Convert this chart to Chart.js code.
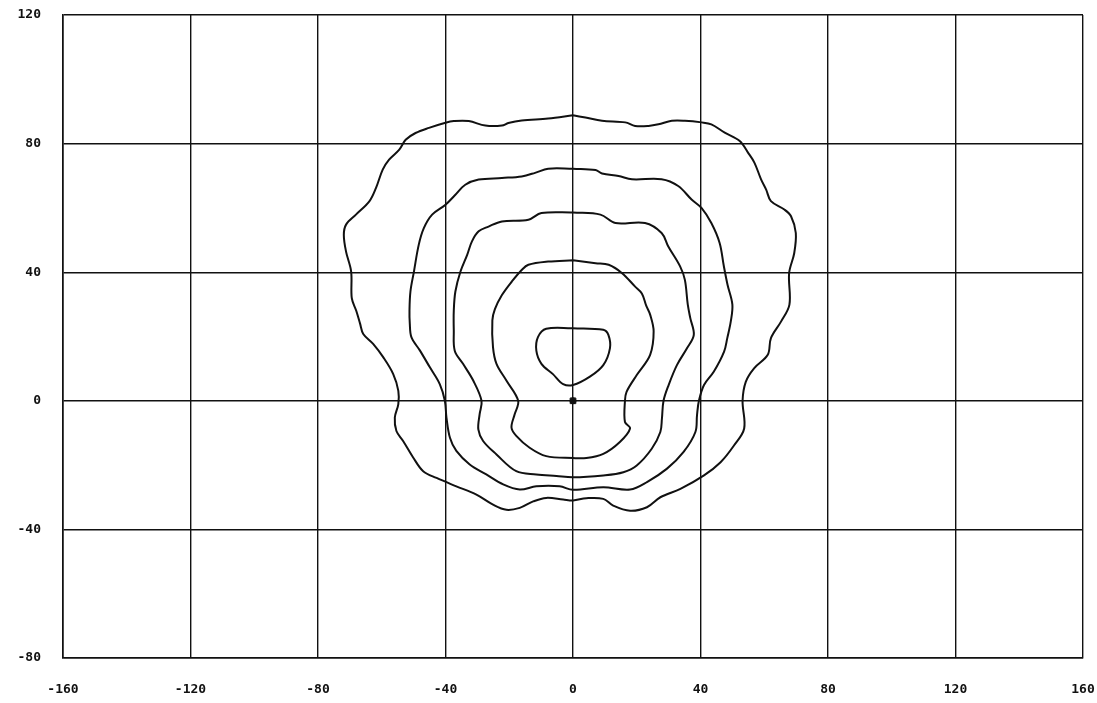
<!DOCTYPE html>
<html>
<head>
<meta charset="utf-8">
<script src="https://cdn.jsdelivr.net/npm/chart.js@4/dist/chart.umd.min.js"></script>
<style>
    body { margin: 0; background: #fff; overflow: hidden; }
</style>
</head>
<body>
<canvas id="contours" width="1097" height="703"></canvas>
<script>
// axis ranges and tick step
const xRange = [-160, 160];
const yRange = [-80, 120];
const tickStep = 40;

// contour lines, innermost first as [x, y]
const contour1 = [[0, 22.6], [-8.4, 22.4], [-11.0, 19.8], [-11.5, 15.6], [-9.9, 11.5], [-6.3, 8.3], [-3.1, 5.2], [0, 4.9],
    [5.3, 7.5], [9.5, 11.1], [11.6, 16.4], [11.1, 20.5], [9.5, 22.1], [0, 22.6]];

const contour2 = [[0, 43.7], [-7.8, 43.3], [-14.0, 42.3], [-16.1, 40.7], [-19.2, 37.1], [-22.3, 32.9], [-24.5, 28.5],
    [-25.3, 25.0], [-25.1, 16.7], [-24.0, 11.5], [-20.9, 6.3], [-17.2, 0], [-18.3, -4.2], [-19.3, -8.3], [-17.8, -10.9],
    [-13.6, -14.6], [-8.4, -17.2], [0, -17.8], [4.2, -17.8], [9.5, -16.5], [14.7, -12.8], [17.9, -8.6], [16.3, -6.6],
    [16.3, 0], [16.8, 2.8], [20.0, 8.0], [24.2, 14.3], [25.3, 21.6], [24.2, 26.8], [23.0, 29.5], [21.6, 33.4],
    [19.5, 35.5], [15.4, 39.7], [11.2, 42.3], [7.1, 42.8], [0, 43.7]];

const contour3 = [[0, 58.6], [-9.9, 58.4], [-14.0, 56.3], [-22.3, 55.8], [-26.5, 54.2], [-29.6, 52.7], [-31.7, 49.6],
    [-33.2, 45.4], [-35.3, 40.2], [-36.9, 34.0], [-37.4, 28.0], [-37.4, 21.9], [-37.1, 15.6], [-34.5, 11.5],
    [-31.3, 6.3], [-28.7, 0], [-29.3, -4.2], [-29.7, -8.9], [-28.2, -12.5], [-24.0, -16.7], [-17.8, -21.9],
    [-11.5, -22.9], [-5.2, -23.4], [0, -23.8], [9.5, -23.2], [15.8, -22.2], [20.0, -20.1], [24.7, -14.9],
    [27.4, -9.7], [27.9, -5.5], [28.4, 0], [30.0, 4.9], [32.6, 11.1], [35.8, 16.4], [37.9, 20.5], [36.8, 25.7],
    [36.0, 30.0], [35.1, 37.6], [33.6, 41.8], [29.9, 48.0], [27.8, 52.2], [22.6, 55.3], [13.3, 55.3], [8.6, 57.9],
    [0, 58.6]];

const contour4 = [[0, 72.2], [-7.8, 72.2], [-11.9, 70.9], [-16.1, 69.8], [-22.3, 69.3], [-29.6, 68.8], [-33.8, 67.2],
    [-36.9, 64.1], [-40.0, 61.0], [-44.2, 57.9], [-46.8, 53.7], [-48.4, 48.5], [-49.9, 40.2], [-51.0, 34.0],
    [-51.3, 28.0], [-51.2, 24.0], [-50.7, 19.8], [-48.0, 15.6], [-44.9, 10.4], [-41.8, 5.2], [-40.2, 0],
    [-39.7, -5.2], [-38.6, -11.5], [-36.6, -15.6], [-32.4, -19.8], [-27.2, -22.9], [-21.9, -26.0], [-16.7, -27.6],
    [-11.5, -26.6], [-4.2, -26.6], [0, -27.7], [9.5, -26.9], [17.9, -27.6], [23.2, -25.3], [29.5, -21.1],
    [34.7, -15.9], [38.4, -9.7], [38.9, -4.5], [39.5, 0], [41.1, 4.9], [44.2, 9.1], [47.4, 15.3], [48.4, 19.5],
    [49.5, 24.7], [50.0, 29.9], [48.5, 36.0], [47.3, 42.0], [46.0, 49.1], [43.4, 55.3], [40.3, 60.0], [37.2, 62.6],
    [33.0, 66.8], [27.8, 68.9], [18.5, 68.9], [14.3, 69.9], [9.1, 70.7], [7.1, 71.8], [0, 72.2]];

const contour5 = [[0, 88.8], [-7.8, 87.8], [-16.1, 87.2], [-20.3, 86.4], [-22.3, 85.6], [-27.5, 85.6], [-32.7, 87.0],
    [-37.4, 87.0], [-40.0, 86.5], [-45.2, 84.9], [-49.4, 83.3], [-52.5, 81.2], [-54.5, 78.1], [-57.7, 75.0],
    [-59.7, 71.9], [-61.8, 66.2], [-63.9, 62.0], [-68.1, 57.9], [-71.2, 54.8], [-71.9, 51.6], [-71.2, 46.4],
    [-69.6, 40.2], [-69.4, 31.9], [-68.0, 28.0], [-66.8, 24.0], [-65.8, 20.8], [-62.7, 17.7], [-59.5, 13.5],
    [-56.4, 8.3], [-54.8, 3.1], [-54.8, -1.0], [-55.9, -5.2], [-55.4, -9.4], [-53.3, -12.5], [-50.1, -17.7],
    [-47.0, -21.9], [-42.8, -24.0], [-36.6, -26.6], [-30.3, -29.2], [-25.1, -32.3], [-20.9, -33.9], [-16.7, -33.3],
    [-12.5, -31.3], [-8.4, -30.2], [-3.1, -30.7], [0, -31.0], [4.2, -30.3], [9.5, -30.5], [12.6, -32.6],
    [17.9, -34.2], [23.2, -33.1], [27.4, -30.0], [33.7, -27.4], [41.1, -23.2], [46.3, -19.1], [50.5, -13.9],
    [53.7, -8.6], [53.2, 0], [54.2, 5.9], [56.8, 10.1], [61.1, 14.3], [62.1, 19.5], [65.3, 24.7], [67.9, 29.9],
    [67.8, 39.7], [69.4, 45.9], [69.9, 52.2], [68.4, 57.4], [66.3, 59.5], [62.1, 62.1], [60.6, 65.7], [59.0, 68.9],
    [56.9, 74.1], [54.9, 77.2], [52.3, 80.8], [47.6, 83.4], [43.4, 86.0], [40.3, 86.6], [35.1, 87.1], [31.0, 87.1],
    [26.8, 86.0], [23.7, 85.5], [19.5, 85.5], [16.4, 86.6], [9.1, 87.1], [3.9, 88.1], [0, 88.8]];

const contours = [contour1, contour2, contour3, contour4, contour5];
const sourcePoint = [[0, 0]];

const toPoints = pairs => pairs.map(p => ({ x: p[0], y: p[1] }));

const lineDataset = pairs => ({
    data: toPoints(pairs),
    showLine: true,
    borderColor: '#111',
    borderWidth: 2,
    pointRadius: 0,
    tension: 0.35,
    fill: false
});

const datasets = contours.map(lineDataset);
datasets.push({
    data: toPoints(sourcePoint),
    pointStyle: 'rect',
    pointRadius: 4,
    borderColor: '#111',
    borderWidth: 1,
    backgroundColor: 'rgba(0,0,0,0)'
});
datasets.push({
    data: toPoints(sourcePoint),
    pointStyle: 'circle',
    pointRadius: 3,
    borderColor: '#111',
    backgroundColor: '#111'
});

const tickFont = { family: 'DejaVu Sans Mono', size: 13, weight: 'bold' };

// fixed axis sizes, and no extra room for overhanging labels
const fitX = scale => {
    scale.height = 45;
    scale.paddingLeft = 0;
    scale.paddingRight = 0;
};
const fitY = scale => {
    scale.width = 63;
    scale.paddingTop = 0;
    scale.paddingBottom = 0;
};

const chartConfig = {
    type: 'scatter',
    data: { datasets: datasets },
    options: {
        responsive: false,
        animation: false,
        layout: { padding: { top: 15, right: 14, left: 0, bottom: 0 } },
        plugins: {
            legend: { display: false },
            tooltip: { enabled: false }
        },
        scales: {
            x: {
                type: 'linear',
                min: xRange[0],
                max: xRange[1],
                afterFit: fitX,
                ticks: { stepSize: tickStep, color: '#111', font: tickFont, padding: 24, maxRotation: 0 },
                grid: { color: '#111', lineWidth: 1.4, drawTicks: false },
                border: { color: '#111', width: 1.6 }
            },
            y: {
                type: 'linear',
                min: yRange[0],
                max: yRange[1],
                afterFit: fitY,
                ticks: { stepSize: tickStep, color: '#111', font: tickFont, padding: 22 },
                grid: { color: '#111', lineWidth: 1.4, drawTicks: false },
                border: { color: '#111', width: 1.6 }
            }
        }
    }
};

const ctx = document.getElementById('contours').getContext('2d');
new Chart(ctx, chartConfig);
</script>
</body>
</html>
